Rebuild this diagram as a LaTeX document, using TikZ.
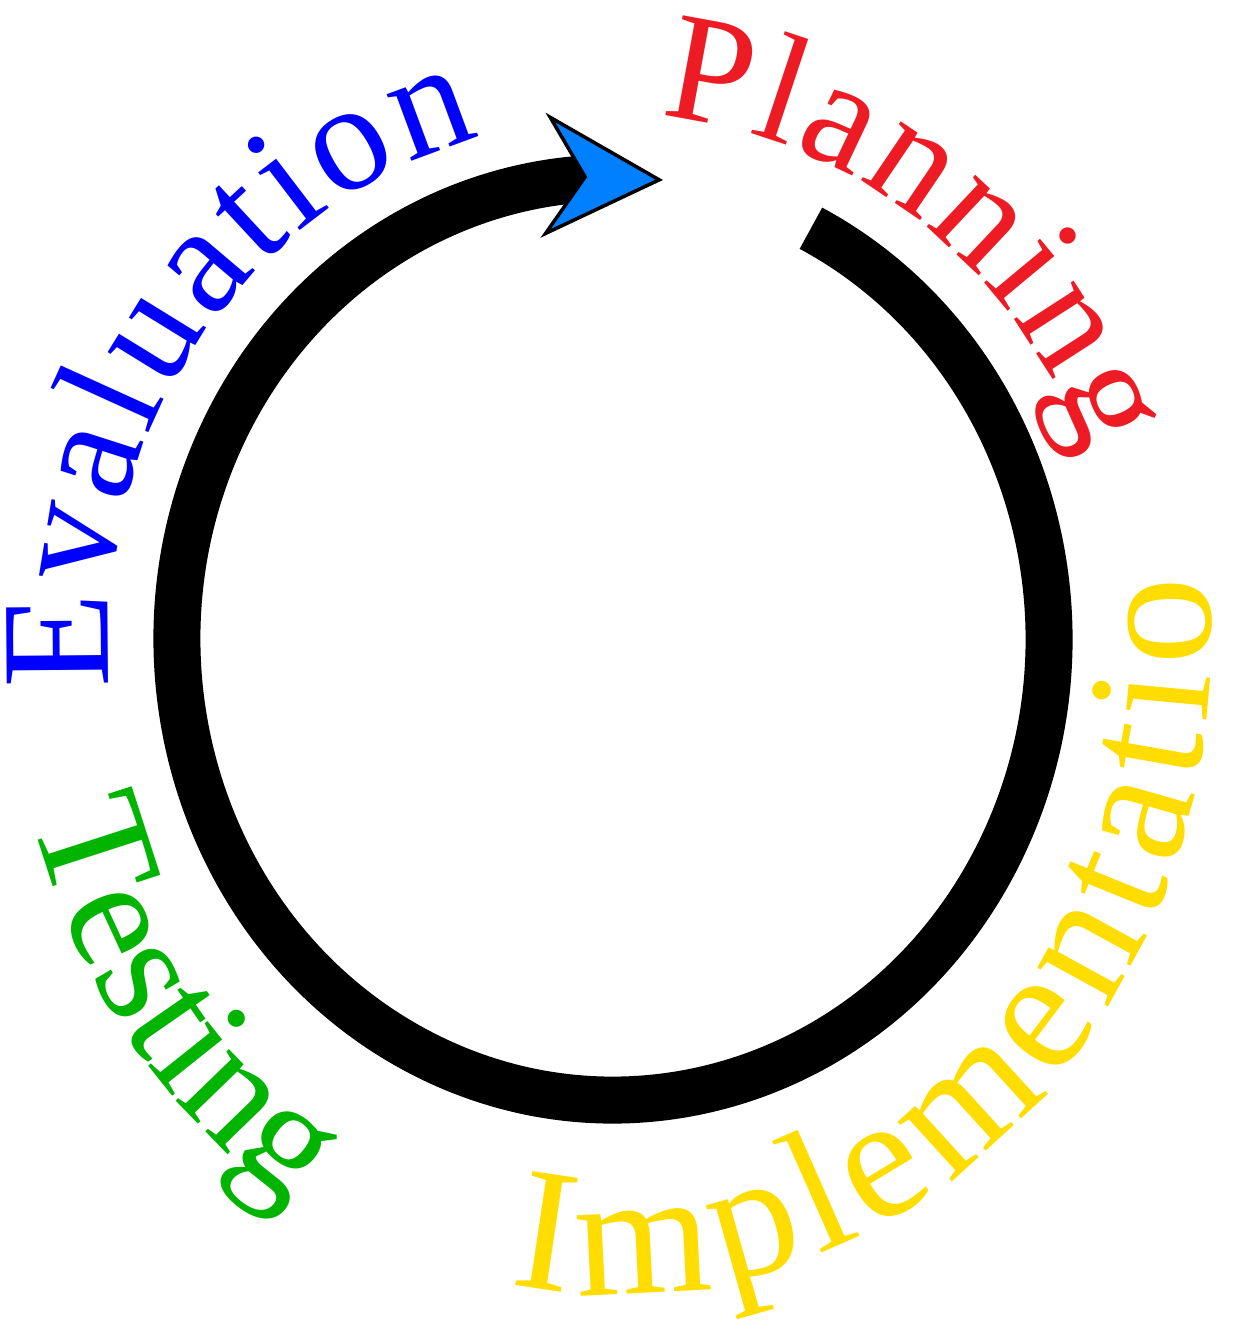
\documentclass[tikz,border=0pt]{standalone}
\usepackage{fontspec}
\setmainfont{Liberation Serif}
\usetikzlibrary{arrows.meta, decorations.text}
\definecolor{planred}{RGB}{237,28,36}
\definecolor{implyellow}{RGB}{255,221,0}
\definecolor{testgreen}{RGB}{0,180,0}
\definecolor{evalblue}{RGB}{0,0,255}
\definecolor{tipblue}{RGB}{0,128,255}

\begin{document}
\begin{tikzpicture}[
        x=0.1mm, y=0.1mm,
        zyklus/.style={line width=4.7mm, -{Stealth[length=12mm, width=12.5mm, inset=4mm, line width=0.35mm, fill=tipblue]}},
        phase/.style={decorate, decoration={text along path, text align=left, text={#1}}},
    ]
        \useasboundingbox (-613,-691) rectangle (635,639);
        % cycle arc, clockwise, tip at the top
        \coordinate (spitze) at (50,459);
        \draw[zyklus] ({436*cos(63)},{461*sin(63)})
            arc[start angle=63, end angle=-270, x radius=436, y radius=461] -- (spitze);
        % phase labels
        \path[phase={|\fontsize{44}{50}\selectfont\color{planred}\kern1pt|Planning}]
            ({505*cos(85)},{525*sin(85)}) arc[start angle=85, end angle=5, x radius=505, y radius=525];
        \path[phase={|\fontsize{50}{60}\selectfont\color{implyellow}\kern3pt|Implementatio}]
            ({598*cos(-101)},{655*sin(-101)}) arc[start angle=-101, end angle=25, x radius=598, y radius=655];
        \path[phase={|\fontsize{46}{56}\selectfont\color{testgreen}\kern-0.3pt|Testing}]
            ({603*cos(195.5)},{668*sin(195.5)}) arc[start angle=195.5, end angle=260, x radius=603, y radius=668];
        \path[phase={|\fontsize{44}{54}\selectfont\color{evalblue}\kern1.6pt|Evaluation}]
            ({505*cos(186)},{520*sin(186)}) arc[start angle=186, end angle=80, x radius=505, y radius=520];
    \end{tikzpicture}
\end{document}
